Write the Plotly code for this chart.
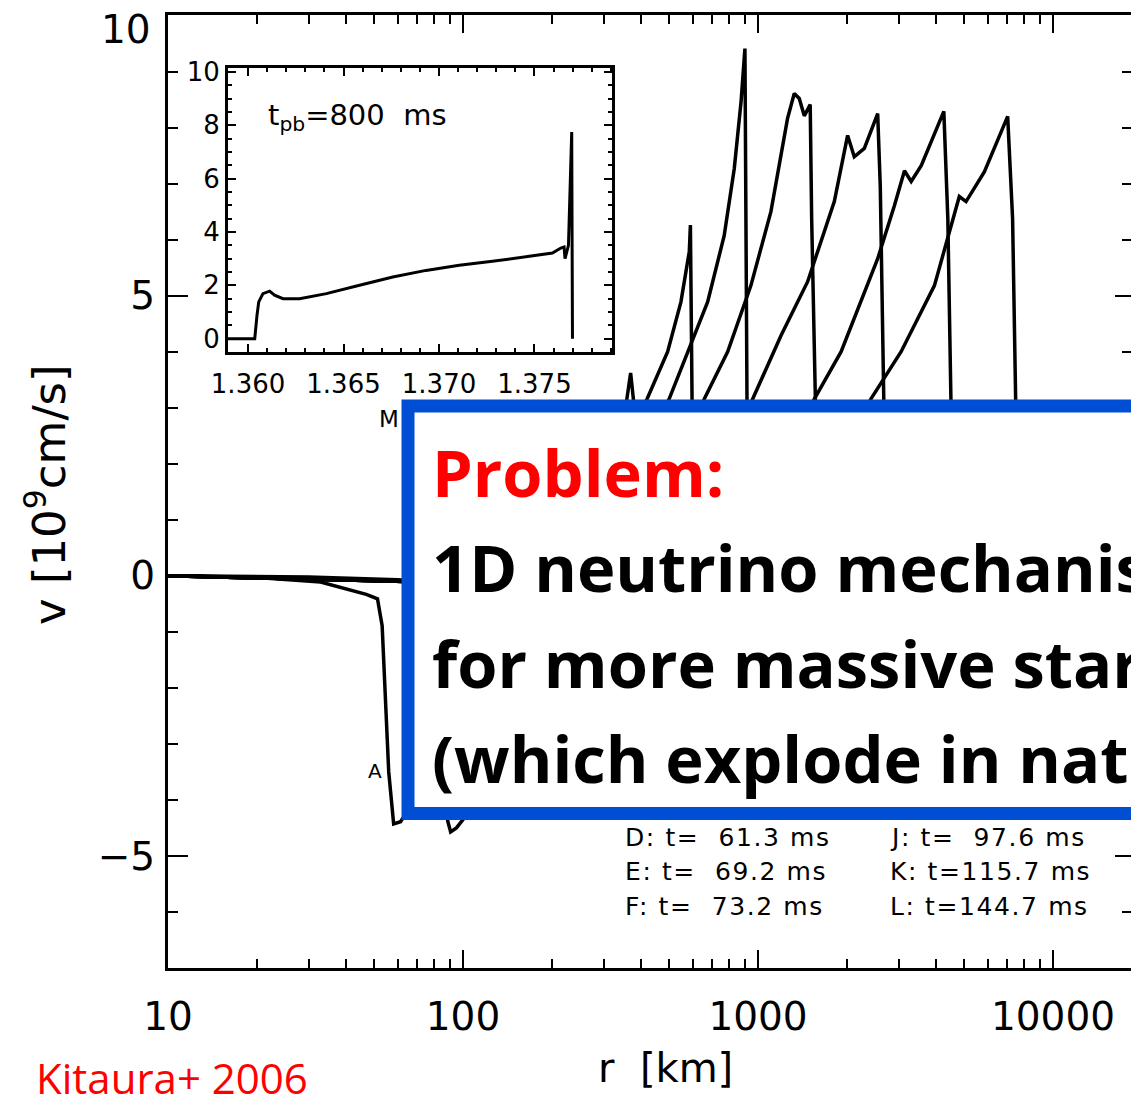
import plotly.graph_objects as go

# ---------------- data (r in km, v in 1e9 cm/s) ----------------
r_A = [10, 20, 32.9, 40.5, 47, 51.3, 53.2, 56.0, 58.2, 61.4, 63, 70, 100, 200, 500, 1000, 3000, 10000, 20000]
v_A = [0.0, -0.03, -0.11, -0.23, -0.33, -0.41, -0.89, -3.5, -4.43, -4.39, -4.3, -4.0, -3.4, -2.5, -1.5, -1.0, -0.5, -0.2, -0.1]

r_B = [10, 30, 60, 80, 86, 87.5, 88.7, 90.8, 95, 100.4, 130, 300, 1000, 3000, 10000, 20000]
v_B = [0.0, -0.02, -0.07, -0.12, -0.3, -3.0, -4.37, -4.57, -4.5, -4.34, -3.8, -2.5, -1.2, -0.6, -0.2, -0.1]

r_F = [10, 30, 64, 100, 200, 300, 340, 358, 370, 379, 390, 400, 1000, 3000, 10000, 20000]
v_F = [0.0, -0.04, -0.09, 0.1, 1.2, 2.4, 2.7, 3.1, 3.62, 3.1, 0.0, -1.5, -1.0, -0.5, -0.2, -0.1]

r_G = [10, 30, 64, 150, 300, 421, 494, 548, 585, 590, 598, 615, 1000, 3000, 10000, 20000]
v_G = [0.0, -0.05, -0.1, 0.3, 1.6, 3.16, 4.0, 4.89, 5.79, 6.26, 3.0, -1.0, -1.2, -0.6, -0.2, -0.1]

r_H = [10, 30, 64, 200, 400, 500, 578, 675, 768, 831, 876, 903, 918, 935, 3000, 10000, 20000]
v_H = [0.0, -0.05, -0.1, 0.5, 2.2, 3.16, 4.0, 4.89, 6.07, 7.27, 8.46, 9.41, 3.0, -1.0, -0.8, -0.3, -0.1]

r_I = [10, 30, 64, 300, 550, 658, 789, 946, 1106, 1259, 1327, 1380, 1435, 1503, 1520, 1567, 1620, 5000, 20000]
v_I = [0.0, -0.05, -0.1, 0.4, 2.2, 3.16, 4.0, 5.18, 6.5, 8.16, 8.61, 8.52, 8.21, 8.41, 6.4, 3.0, -1.0, -0.5, -0.1]

r_J = [10, 30, 64, 400, 800, 960, 1197, 1473, 1814, 2013, 2120, 2293, 2545, 2597, 2679, 2750, 10000, 20000]
v_J = [0.0, -0.05, -0.1, 0.3, 2.2, 3.16, 4.29, 5.25, 6.68, 7.86, 7.48, 7.63, 8.25, 6.96, 3.0, -1.0, -0.4, -0.1]

r_K = [10, 30, 64, 600, 1300, 1553, 1913, 2545, 2901, 3137, 3306, 3575, 4265, 4400, 4512, 4650, 20000]
v_K = [0.0, -0.05, -0.1, 0.3, 2.4, 3.16, 4.0, 5.66, 6.61, 7.23, 7.04, 7.32, 8.29, 6.38, 3.0, -1.0, -0.2]

r_L = [10, 30, 64, 900, 2000, 2415, 3055, 3963, 4813, 5073, 5850, 7020, 7295, 7480, 7700, 20000]
v_L = [0.0, -0.05, -0.1, 0.3, 2.4, 3.16, 4.0, 5.18, 6.77, 6.68, 7.21, 8.2, 6.38, 3.0, -1.0, -0.3]

# inset: v vs enclosed mass at t_pb = 800 ms
m_inset = [1.35895, 1.36035, 1.36047, 1.36056, 1.36078, 1.36113, 1.36139, 1.36183, 1.3627, 1.3641,
           1.36584, 1.36758, 1.36932, 1.37106, 1.3728, 1.37455, 1.37594, 1.37638, 1.37655, 1.3766,
           1.37678, 1.37695, 1.37699]
v_inset = [0.0, 0.0, 0.88, 1.38, 1.69, 1.78, 1.63, 1.5, 1.5, 1.69,
           2.0, 2.31, 2.56, 2.75, 2.9, 3.06, 3.21, 3.4, 3.44, 3.0,
           3.5, 7.75, 0.0]

curves = [("A", r_A, v_A), ("B", r_B, v_B), ("F", r_F, v_F), ("G", r_G, v_G), ("H", r_H, v_H),
          ("I", r_I, v_I), ("J", r_J, v_J), ("K", r_K, v_K), ("L", r_L, v_L)]

# tick settings
r_tick_start = 10          # major ticks every decade: 10, 100, 1000, 10000
v_tick_step = 5            # -5, 0, 5, 10
v_top_label = "10"         # IDL draws the top label a bit below the frame corner
inset_m_tick0, inset_m_step = 1.360, 0.005   # 1.360 ... 1.375
inset_v_step = 2           # 0 ... 10

legend_left = ["D: t=\u00a0 61.3 ms", "E: t=\u00a0 69.2 ms", "F: t=\u00a0 73.2 ms"]
legend_right = ["J: t=\u00a0 97.6 ms", "K: t=115.7 ms", "L: t=144.7 ms"]
box_lines = ["1D neutrino mechanism", "for more massive stars", "(which explode in nature)"]

# ---------------- layout geometry ----------------
W, H = 1131, 1096
ML, MR, MT, MB = 168, 0, 15, 128
PW, PH = W - ML - MR, H - MT - MB


def px(x):
    return (x - ML) / PW


def py(y):
    return (H - MB - y) / PH


fig = go.Figure()
for name, r, v in curves:
    fig.add_trace(go.Scatter(x=r, y=v, mode="lines", name=name, showlegend=False,
                             line=dict(color="black", width=3.5), xaxis="x", yaxis="y"))
fig.add_trace(go.Scatter(x=m_inset, y=v_inset, mode="lines", showlegend=False,
                         line=dict(color="black", width=3), xaxis="x2", yaxis="y3"))
# empty helper traces so that the tick-only overlay axes are drawn
for xa, ya in [("x3", "y"), ("x4", "y"), ("x", "y2"), ("x", "y4")]:
    fig.add_trace(go.Scatter(x=[r_tick_start], y=[0], mode="lines", showlegend=False,
                             hoverinfo="skip", xaxis=xa, yaxis=ya))

FONT = "DejaVu Sans"
XR = [1, 1 + PW / 295.0]
YR = [-7, 10.01]
TK = dict(tickcolor="black", tickwidth=2, ticks="inside")
NOGRID = dict(showgrid=False, zeroline=False, automargin=False)
fig.update_layout(
    width=W, height=H, margin=dict(l=ML, r=MR, t=MT, b=MB, autoexpand=False),
    paper_bgcolor="white", plot_bgcolor="rgba(0,0,0,0)",
    font=dict(family=FONT, color="black"),
    # main x axis: frame lines + labels
    xaxis=dict(type="log", range=XR, domain=[0, 1], anchor="y",
               tickmode="linear", tick0=1, dtick=1, tickformat="d", ticks="",
               showline=True, linewidth=3, linecolor="black", mirror=True,
               tickfont=dict(size=39, family=FONT),
               ticklabelstandoff=12, ticklabeloverflow="allow", **NOGRID),
    # tick-only overlay axes: small log ticks and decade ticks, mirrored on top
    xaxis3=dict(type="log", range=XR, overlaying="x", anchor="y", side="bottom",
                dtick="D1", showticklabels=False, ticklen=9, **TK,
                showline=False, mirror="ticks", **NOGRID),
    xaxis4=dict(type="log", range=XR, overlaying="x", anchor="y", side="bottom",
                tick0=1, dtick=1, showticklabels=False, ticklen=18, **TK,
                showline=False, mirror="ticks", **NOGRID),
    yaxis=dict(range=YR, domain=[0, 1], anchor="x",
               tickmode="linear", tick0=0, dtick=v_tick_step, ticks="",
               showline=True, linewidth=3, linecolor="black", mirror=False,
               tickfont=dict(size=39, family=FONT),
               ticklabelstandoff=2, **NOGRID),
    yaxis4=dict(range=YR, overlaying="y", side="left", anchor="x",
                tickmode="linear", tick0=0, dtick=v_tick_step, showticklabels=False,
                ticklen=20, **TK,
                minor=dict(dtick=1, ticks="inside", ticklen=10, tickwidth=2,
                           tickcolor="black", showgrid=False),
                showline=False, **NOGRID),
    yaxis2=dict(range=YR, overlaying="y", side="right", anchor="x",
                tickmode="linear", tick0=0, dtick=v_tick_step, showticklabels=False,
                ticklen=16, **TK,
                minor=dict(dtick=1, ticks="inside", ticklen=9, tickwidth=2,
                           tickcolor="black", showgrid=False),
                showline=False, **NOGRID),
    xaxis2=dict(range=[1.35895, 1.37906], domain=[px(228), px(612)], anchor="y3",
                tickmode="linear", tick0=inset_m_tick0, dtick=inset_m_step, tickformat=".3f",
                ticklen=8, tickcolor="black", tickwidth=1.5, ticks="inside",
                minor=dict(dtick=0.001, tick0=1.36, ticks="inside", ticklen=4, tickwidth=1.5,
                           tickcolor="black", showgrid=False),
                showline=True, linewidth=3, linecolor="black", mirror="ticks",
                tickfont=dict(size=26, family=FONT),
                ticklabelstandoff=7, **NOGRID),
    yaxis3=dict(range=[-0.5, 10.15], domain=[py(352), py(68)], anchor="x2",
                tickmode="linear", tick0=0, dtick=inset_v_step,
                ticklen=8, tickcolor="black", tickwidth=1.5, ticks="inside",
                minor=dict(dtick=0.5, ticks="inside", ticklen=4, tickwidth=1.5,
                           tickcolor="black", showgrid=False),
                showline=True, linewidth=3, linecolor="black", mirror="ticks",
                tickfont=dict(size=26, family=FONT),
                ticklabeloverflow="allow", **NOGRID),
)

# blue box covering part of the plot
BLUE = "rgb(0,78,212)"
fig.add_shape(type="rect", xref="paper", yref="paper", layer="above",
              x0=px(408), x1=px(1300), y0=py(813.5), y1=py(406),
              line=dict(color=BLUE, width=13), fillcolor="white")

ann = []


def add_text(text, x, y, size, family=FONT, color="black", xanchor="left", yanchor="middle", angle=0):
    ann.append(dict(text=text, x=px(x), y=py(y), xref="paper", yref="paper",
                    xanchor=xanchor, yanchor=yanchor, showarrow=False, textangle=angle,
                    font=dict(size=size, family=family, color=color)))


# top y label (the regular one is hidden because it would pass the page top)
add_text(v_top_label, 153, 29, 39, xanchor="right")
# axis titles
add_text("r\u00a0 [km]", 665, 1068, 40, xanchor="center")
add_text("v\u00a0[10<sup>9</sup>cm/s]", 47, 495, 45, xanchor="center", angle=-90)
# inset labels
add_text("t<sub>pb</sub>=800\u00a0 ms", 266, 117, 29)
add_text("M", 401, 419, 23, xanchor="right")
add_text("A", 375, 771, 20, xanchor="center")
# legend text of the time stamps
rows_y = [837, 871, 906]
for t, yy in zip(legend_left, rows_y):
    add_text('<span style="letter-spacing:1.6px">' + t + '</span>', 623, yy, 25)
for t, yy in zip(legend_right, rows_y):
    add_text('<span style="letter-spacing:1.6px">' + t + '</span>', 888, yy, 25)
# box text
add_text("<b>Problem:</b>", 430, 472, 65, family="Open Sans", color="rgb(255,0,0)")
for t, yy in zip(box_lines, [567, 663, 758]):
    add_text("<b>" + t + "</b>", 430, yy, 65, family="Open Sans")
# citation
add_text("Kitaura+ 2006", 34, 1077, 42, family="Open Sans", color="rgb(255,0,0)")

fig.update_layout(annotations=ann)
fig.write_html("out.html")
